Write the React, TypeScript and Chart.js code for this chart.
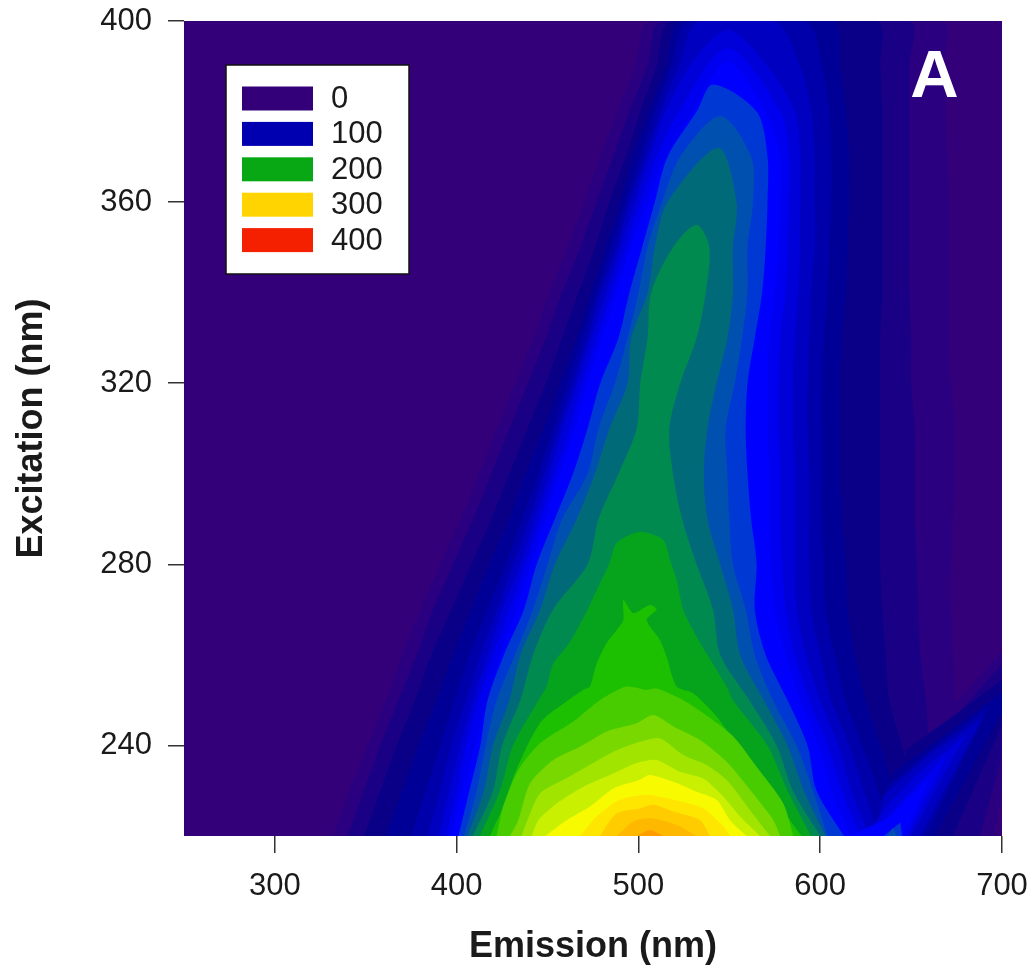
import React, { useEffect, useRef } from "react";
import { Chart, registerables } from "chart.js";

Chart.register(...registerables);

const excitationRows = [220, 230, 240, 250, 260, 270, 280, 290, 300, 310, 320, 330, 340, 350, 360, 370, 380, 390, 400];
const xTicks = [300, 400, 500, 600, 700];
const yTicks = [240, 280, 320, 360, 400];
const legendValues = ["0", "100", "200", "300", "400"];
const legendColors = ["#33007a", "#0000b0", "#08a814", "#ffd400", "#f52000"];

const baseColor = "#33007a";
const bandColors = [
  "#2a0080", "#1a0084", "#0a0088", "#000096", "#0000aa", "#0000c0", "#0000d8", "#0000f0", "#0000ff",
  "#0038d4", "#0050b0", "#006a78", "#008a50",
];
const peakColors = ["#06a41c", "#1cc000", "#48cc00", "#78d800", "#a0e400", "#c8f000", "#f8fa00", "#ffe600", "#ffcc00", "#ffb800", "#ff9c00"];

const bandLeft: number[][] = [
  [332, 341, 351, 361, 370, 380, 391, 402, 412, 422, 432, 442, 451, 461, 470, 479, 488, 498, 507],
  [340, 349, 358, 368, 378, 387, 398, 409, 419, 429, 439, 449, 458, 468, 477, 486, 495, 505, 513],
  [349, 358, 367, 377, 386, 397, 408, 419, 429, 439, 449, 458, 467, 476, 484, 493, 501, 510, 518],
  [361, 370, 379, 389, 398, 408, 418, 429, 438, 448, 457, 466, 474, 482, 490, 497, 506, 515, 523],
  [375, 383, 391, 399, 407, 417, 427, 436, 445, 453, 461, 469, 477, 485, 493, 501, 509, 518, 528],
  [384, 391, 397, 405, 413, 422, 431, 440, 448, 456, 464, 472, 479, 488, 495, 504, 512, 522, 533],
  [390, 396, 402, 409, 417, 425, 435, 443, 451, 458, 466, 474, 482, 490, 498, 506, 515, 528],
  [394, 400, 405, 412, 420, 429, 438, 446, 454, 462, 469, 477, 485, 493, 501, 510, 522],
  [397, 403, 410, 417, 424, 433, 441, 449, 457, 465, 472, 480, 488, 496, 505, 515, 530],
  [401, 407, 413, 417, 426, 437, 444, 454, 464, 472, 479, 489, 495, 502, 509, 516, 532],
  [404, 411, 416, 422, 432, 442, 450, 458, 472, 478, 487, 494, 500, 505, 513, 523],
  [406, 415, 420, 429, 435, 446, 454, 466, 476, 484, 494, 496, 505, 509, 516],
  [409, 420, 425, 435, 442, 453, 472, 478, 489, 499, 501, 505, 507, 519],
];

const bandRight: number[][] = [
  [682, 680, 677, 674, 673, 672, 672, 673, 674, 674, 672, 671, 671, 671, 671, 670, 669, 668, 667],
  [669, 663, 660, 658, 655, 654, 653, 652, 652, 652, 650, 650, 649, 649, 649, 649, 649, 649, 649],
  [658, 652, 645, 638, 636, 634, 633, 633, 633, 633, 633, 633, 634, 634, 634, 634, 634, 633, 631],
  [649, 641, 633, 625, 619, 615, 614, 612, 611, 611, 611, 612, 614, 615, 616, 616, 614, 611, 607],
  [640, 632, 623, 614, 608, 603, 602, 601, 601, 601, 601, 602, 604, 605, 606, 606, 605, 601, 592],
  [633, 624, 616, 606, 600, 595, 594, 594, 594, 593, 593, 594, 595, 597, 597, 597, 595, 589, 575],
  [627, 617, 610, 600, 592, 587, 586, 586, 586, 585, 585, 586, 588, 589, 589, 589, 586, 571],
  [622, 612, 604, 594, 586, 581, 579, 578, 578, 577, 577, 578, 581, 582, 583, 583, 578],
  [617, 606, 599, 589, 581, 575, 573, 572, 572, 571, 571, 572, 575, 577, 578, 578, 570],
  [613, 598, 593, 582, 570, 564, 565, 562, 560, 559, 560, 564, 568, 570, 571, 571, 565],
  [604, 596, 587, 574, 564, 559, 552, 550, 549, 548, 553, 557, 560, 560, 563, 562],
  [603, 591, 582, 569, 556, 552, 545, 538, 536, 538, 543, 549, 552, 552, 554],
  [600, 585, 576, 561, 545, 541, 532, 524, 519, 517, 523, 532, 537, 539],
];

const bandApexEmission: (number | null)[] = [null, null, null, null, null, null, 549, 549, 549, 541, 545, 544, 532];
const bandApexExcitation: (number | null)[] = [null, null, null, null, null, null, 398, 394, 391, 386, 379, 372, 355];

const peakEmission: number[][] = [
  [412.8, 423.8, 431, 445, 449.5, 453, 462, 470, 477, 484, 488, 500.8, 513.7, 517.3, 521, 524.7, 532, 541, 548.5, 552, 571, 582, 595],
  [418.3, 424.7, 432, 438.9, 445.8, 451.3, 461.4, 469.7, 473.3, 477, 482.5, 488, 491.7, 491.7, 497.2, 506.3, 510, 504.5, 511.8, 515.5, 521, 530.2, 543, 555.9, 570.5, 583.4, 589.8],
  [422, 425.6, 433.9, 445.8, 464.2, 478.8, 493.5, 504.5, 510, 522.8, 535.7, 552.2, 565, 579.7, 585.2],
  [429.3, 433.9, 440.3, 453.2, 467.8, 482.5, 499, 508.2, 519.2, 533.9, 548.5, 561.4, 574.2, 578],
  [435.7, 438.9, 445.8, 458.7, 471.5, 486.2, 500.8, 511.8, 524.7, 537.5, 548.5, 561.4, 572.4],
  [441.2, 444.9, 455, 469.7, 486.2, 499, 510, 522.8, 535.7, 546.7, 555.9, 566.9],
  [448.6, 460.5, 473.3, 486.2, 500.8, 506.3, 519.2, 532, 543, 550.4, 559.5],
  [467.8, 477, 489.8, 504.5, 519.2, 535.7, 546.7, 550.4],
  [478.8, 488, 500.8, 508.2, 519.2, 533.9, 539.4],
  [488, 497.2, 506.3, 515.5, 522.8, 532],
  [499, 506.3, 513.7],
];
const peakExcitation: number[][] = [
  [220, 230, 240, 250, 253, 258, 262.6, 268.4, 274.3, 280.2, 284.7, 287.2, 285.4, 281, 276.6, 269.9, 264, 258, 253, 250, 240, 230, 220],
  [220, 225.7, 233.8, 240, 244.9, 247.1, 250, 252.3, 253, 258.1, 262.6, 265.5, 267.7, 272.1, 269.2, 271, 270, 267.7, 263.3, 259.6, 253, 251.5, 246.4, 239, 230.9, 223.5, 220],
  [220, 226.5, 234.6, 240.5, 245.3, 250, 253, 252.3, 252.6, 250.4, 247.1, 242, 235.3, 227.2, 220],
  [220, 223.5, 231.6, 236.8, 239.7, 243.1, 244.9, 246.7, 244.2, 241.2, 236.4, 230.2, 223.5, 220],
  [220, 223.5, 229.4, 232.4, 235.3, 238.6, 240.8, 241.6, 237.9, 235.7, 232.4, 225.7, 220],
  [220, 223.5, 227.2, 230.9, 233.8, 236.1, 236.8, 234.2, 232.7, 228.7, 224.3, 220],
  [220, 223.5, 226.5, 230.5, 232.4, 233.5, 232, 229.8, 228, 223.5, 220],
  [220, 224.3, 228, 229.1, 228, 226.1, 222.1, 220],
  [220, 225, 226.1, 226.9, 225.4, 223.5, 220],
  [220, 223.2, 223.9, 223.2, 222.1, 220],
  [220, 221.3, 220],
];

const streakBand = [0, 1, 2, 3, 4, 5, 6, 7, 8, 9, 10];
const streakEmission: number[][] = [
  [700, 700, 696, 611],
  [700, 700, 688, 616],
  [700, 700, 673, 644, 647, 674],
  [700, 700, 663, 638, 640, 664],
  [693, 658, 633, 637, 664],
  [689, 655, 630, 635, 660],
  [680, 650, 626, 635, 654],
  [670, 648, 622, 635, 648],
  [660, 646, 616, 628, 638],
  [644, 645, 635],
  [640, 642, 637],
];
const streakExcitation: number[][] = [
  [261, 230, 220, 220],
  [258, 238, 220, 220],
  [254.5, 244.5, 220, 220, 239, 246.7],
  [251.8, 247.4, 220, 220, 234, 241],
  [248.7, 220, 220, 231, 240],
  [246, 220, 220, 229, 238],
  [242.3, 220, 220, 226, 234],
  [238, 220, 220, 223.5, 229],
  [232.8, 220, 220, 222.2, 224],
  [223, 220, 220],
  [221.8, 220, 220],
];

const FONT = "'Liberation Sans', Arial, sans-serif";

function polygon(i: number) {
  const pts: { x: number; y: number }[] = [];
  bandLeft[i].forEach((x, r) => pts.push({ x, y: excitationRows[r] }));
  const ax = bandApexEmission[i];
  const ay = bandApexExcitation[i];
  if (ax !== null && ay !== null) pts.push({ x: ax, y: ay });
  for (let r = bandRight[i].length - 1; r >= 0; r--) pts.push({ x: bandRight[i][r], y: excitationRows[r] });
  return pts;
}

function buildDatasets() {
  const out: any[] = [];
  const add = (data: { x: number; y: number }[], color: string, tension: number) =>
    out.push({
      data,
      showLine: true,
      fill: "shape",
      backgroundColor: color,
      borderColor: color,
      borderWidth: 0,
      pointRadius: 0,
      tension,
    });
  bandColors.forEach((color, i) => {
    add(polygon(i), color, 0.3);
    streakBand.forEach((b, s) => {
      if (b === i) add(streakEmission[s].map((x, k) => ({ x, y: streakExcitation[s][k] })), color, 0);
    });
  });
  peakColors.forEach((color, i) => {
    add(peakEmission[i].map((x, k) => ({ x, y: peakExcitation[i][k] })), color, 0.25);
  });
  return out.reverse();
}

const decorations = {
  id: "decorations",
  beforeDatasetsDraw(chart: any) {
    const { ctx, chartArea: a } = chart;
    ctx.save();
    ctx.fillStyle = baseColor;
    ctx.fillRect(a.left, a.top, a.right - a.left, a.bottom - a.top);
    ctx.restore();
  },
  afterDraw(chart: any) {
    const { ctx } = chart;
    ctx.save();
    ctx.fillStyle = "#ffffff";
    ctx.strokeStyle = "#111111";
    ctx.lineWidth = 1.5;
    ctx.fillRect(226, 65, 183, 209);
    ctx.strokeRect(226, 65, 183, 209);
    ctx.font = `31px ${FONT}`;
    ctx.textBaseline = "middle";
    legendValues.forEach((label, i) => {
      const y = 98.5 + i * 35.4;
      ctx.fillStyle = legendColors[i];
      ctx.fillRect(242, y - 12, 71, 24);
      ctx.fillStyle = "#1a1a1a";
      ctx.fillText(label, 331, y + 1);
    });
    ctx.fillStyle = "#ffffff";
    ctx.font = `bold 67px ${FONT}`;
    ctx.textAlign = "center";
    ctx.fillText("A", 934.5, 79);
    ctx.restore();
  },
};

export default function App() {
  const ref = useRef<HTMLCanvasElement | null>(null);
  useEffect(() => {
    const chart = new Chart(ref.current as HTMLCanvasElement, {
      type: "scatter",
      data: { datasets: buildDatasets() },
      plugins: [decorations],
      options: {
        animation: false,
        responsive: false,
        layout: { padding: { top: 21, right: 29, left: 0, bottom: 0 } },
        plugins: { legend: { display: false }, tooltip: { enabled: false } },
        scales: {
          x: {
            type: "linear",
            min: 250,
            max: 700,
            afterBuildTicks: (s: any) => { s.ticks = xTicks.map((value) => ({ value })); },
            afterFit: (s: any) => { s.height = 130; s.paddingLeft = 0; s.paddingRight = 0; },
            grid: { drawOnChartArea: false, drawTicks: true, tickLength: 17, color: "#333333", lineWidth: 1.5 },
            border: { display: false },
            ticks: { color: "#1a1a1a", font: { size: 31, family: FONT }, padding: 15, maxRotation: 0, autoSkip: false },
            title: { display: true, text: "Emission (nm)", color: "#1a1a1a", font: { size: 36, weight: "bold", family: FONT }, padding: { top: 0, bottom: -3 } },
          },
          y: {
            type: "linear",
            min: 220,
            max: 400,
            afterBuildTicks: (s: any) => { s.ticks = yTicks.map((value) => ({ value })); },
            afterFit: (s: any) => { s.width = 184; s.paddingTop = 0; s.paddingBottom = 0; },
            grid: { drawOnChartArea: false, drawTicks: true, tickLength: 16, color: "#333333", lineWidth: 1.5 },
            border: { display: false },
            ticks: { color: "#1a1a1a", font: { size: 31, family: FONT }, padding: 16, autoSkip: false },
            title: { display: true, text: "Excitation (nm)", color: "#1a1a1a", font: { size: 36, weight: "bold", family: FONT }, padding: { top: 10, bottom: 0 } },
          },
        },
      },
    } as any);
    return () => chart.destroy();
  }, []);
  return <canvas ref={ref} width={1031} height={966} style={{ position: "absolute", left: 0, top: 0, width: 1031, height: 966 }} />;
}
